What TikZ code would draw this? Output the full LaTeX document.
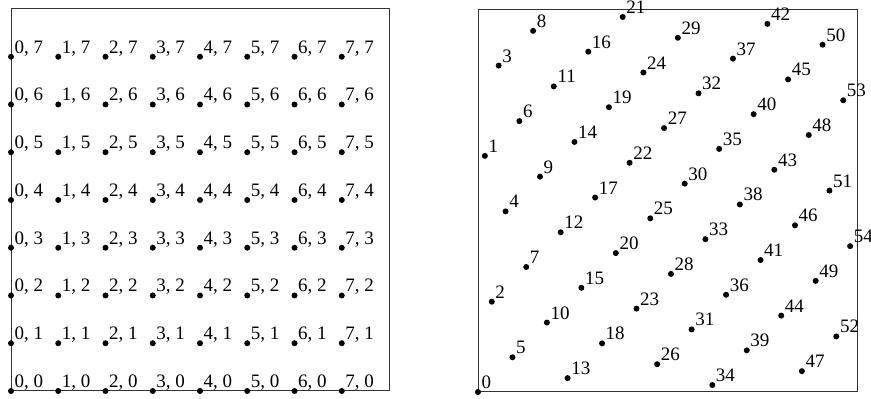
\documentclass[tikz,border=0pt]{standalone}
\usepackage{fontspec}
\setmainfont{Liberation Serif}
\usetikzlibrary{positioning}

\begin{document}
\begin{tikzpicture}[
    x=1pt, y=1pt,
    dot/.style={circle, fill=black, inner sep=0pt, minimum size=6pt},
    ptlabel/.style={anchor=base west, inner sep=0pt, xshift=3.5pt, yshift=3.5pt,
                    font=\fontsize{19}{21}\selectfont},
    frame/.style={draw=black!80, line width=1pt},
]
\useasboundingbox (0,0) rectangle (871,399);

% left: regular 8x8 grid
\draw[frame] (11,8) rectangle (389,390);
\foreach \i in {0,...,7}{
  \foreach \j in {0,...,7}{
    \node[dot] (g\i\j) at (11+47.25*\i, 8+47.75*\j) {};
    \node[ptlabel] (gl\i\j) at (g\i\j.center) {\i, \j};
  }
}

% right: rank-1 lattice, 55 points
\draw[frame] (478,7) rectangle (857,389);
\foreach \k in {0,...,54}{
  \pgfmathtruncatemacro{\m}{mod(34*\k,55)}
  \node[dot] (f\k) at (478+6.890909*\k, 7+6.945455*\m) {};
  \node[ptlabel] (fl\k) at (f\k.center) {\k};
}
\end{tikzpicture}
\end{document}
